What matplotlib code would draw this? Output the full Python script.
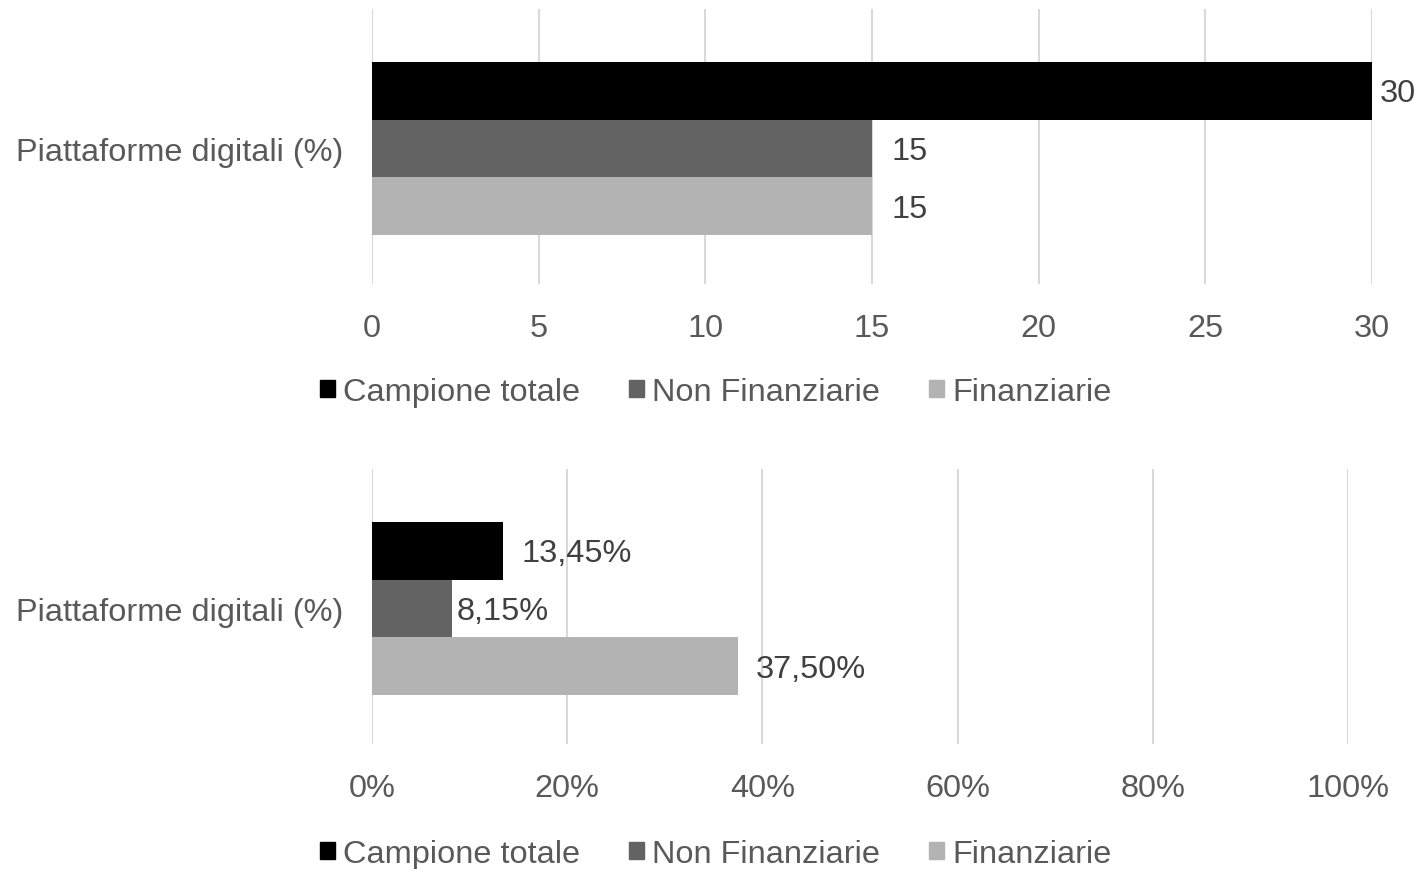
import matplotlib
matplotlib.use("Agg")
import matplotlib.pyplot as plt
from matplotlib.patches import Patch
from matplotlib.ticker import FuncFormatter

plt.rcParams['font.family'] = ['Liberation Sans', 'DejaVu Sans']

category = "Piattaforme digitali (%)"
series = ["Campione totale", "Non Finanziarie", "Finanziarie"]
colors = ["#000000", "#636363", "#b3b3b3"]
counts = [30, 15, 15]
percents = [13.45, 8.15, 37.50]
count_ticks = [0, 5, 10, 15, 20, 25, 30]
pct_ticks = [0, 20, 40, 60, 80, 100]

W, H = 1417, 870
fig = plt.figure(figsize=(W / 100, H / 100), dpi=100)

FS = 23.4
TICK_C = "#595959"
LAB_C = "#404040"
GRID_C = "#d9d9d9"

offsets = [0.21, 0.0, -0.21]
bh = 0.21


def make_axes(rect, values, xmax, ticks, fmt_tick, fmt_val, legend_y, val_pads):
    ax = fig.add_axes(rect)
    for v, off, c, pad in zip(values, offsets, colors, val_pads):
        ax.barh(off, v, height=bh, color=c, zorder=3)
        ax.annotate(fmt_val(v), xy=(v, off), xytext=(pad, -2), textcoords="offset points",
                    va="center", ha="left", fontsize=FS, color=LAB_C)
    ax.set_xlim(0, xmax)
    ax.set_ylim(-0.493, 0.507)
    ax.set_xticks(ticks)
    ax.xaxis.set_major_formatter(FuncFormatter(fmt_tick))
    ax.set_yticks([0])
    ax.set_yticklabels([category])
    ax.tick_params(axis="both", length=0, labelsize=FS, colors=TICK_C)
    ax.tick_params(axis="x", pad=21)
    ax.tick_params(axis="y", pad=21)
    ax.grid(axis="x", color=GRID_C, linewidth=1.5, zorder=0)
    for s in ax.spines.values():
        s.set_visible(False)
    handles = [Patch(color=c, label=l) for c, l in zip(colors, series)]
    leg = fig.legend(handles=handles, loc="center", bbox_to_anchor=(716 / W, 1 - legend_y / H),
                     ncol=3, frameon=False, fontsize=FS, handlelength=0.46, handleheight=0.46,
                     handletextpad=0.25, columnspacing=1.5, borderpad=0, borderaxespad=0)
    for t in leg.get_texts():
        t.set_color(TICK_C)
    return ax


make_axes([372 / W, 1 - 285 / H, 1000 / W, 275 / H], counts, 30, count_ticks,
          lambda x, p: f"{int(x)}", lambda v: f"{int(v)}", 393, [5.8, 14.4, 14.4])
make_axes([372 / W, 1 - 745 / H, 976 / W, 275 / H], percents, 100, pct_ticks,
          lambda x, p: f"{int(x)}%", lambda v: f"{v:.2f}%".replace(".", ","), 855, [13, 3.6, 13])

fig.savefig("out.png", dpi=100)
